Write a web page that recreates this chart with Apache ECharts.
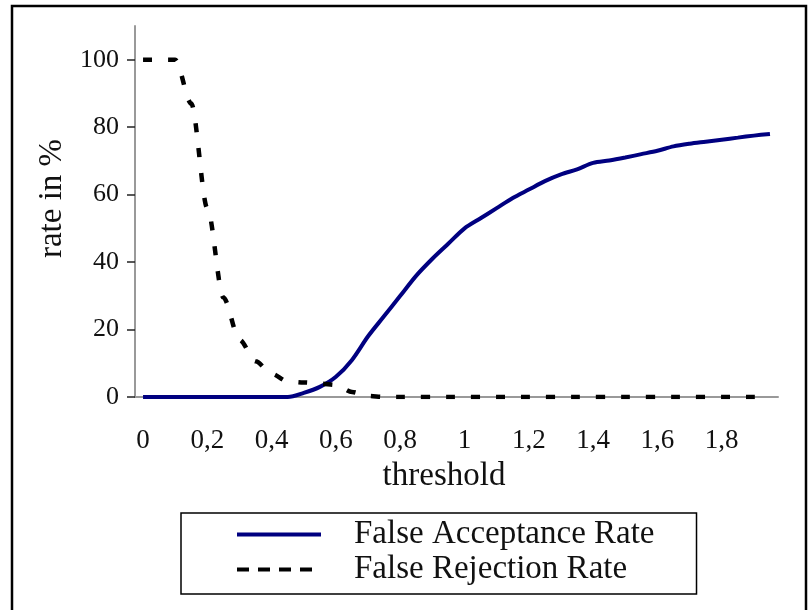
<!DOCTYPE html>
<html>
<head>
<meta charset="utf-8">
<script src="https://cdn.jsdelivr.net/npm/echarts@6/dist/echarts.min.js"></script>
<style>
  html, body { margin: 0; padding: 0; background: #fff; }
  #chart { width: 810px; height: 610px; }
</style>
</head>
<body>
<div id="chart"></div>
<script>
// Threshold categories (step 0,05)
const thresholds = [
  '0', '0,05', '0,1', '0,15', '0,2', '0,25', '0,3', '0,35', '0,4', '0,45',
  '0,5', '0,55', '0,6', '0,65', '0,7', '0,75', '0,8', '0,85', '0,9', '0,95',
  '1', '1,05', '1,1', '1,15', '1,2', '1,25', '1,3', '1,35', '1,4', '1,45',
  '1,5', '1,55', '1,6', '1,65', '1,7', '1,75', '1,8', '1,85', '1,9', '1,95'
];

// False acceptance rate in %
const farValues = [
  0, 0, 0, 0, 0, 0, 0, 0, 0, 0,
  1.2, 3, 6, 11, 18, 24, 30, 36, 41, 45.5,
  50, 53, 56, 59, 61.5, 64, 66, 67.5, 69.4, 70.1,
  71, 72, 73, 74.3, 75.1, 75.7, 76.3, 76.9, 77.5, 78
];

// False rejection rate in %
const frrValues = [
  100, 100, 100, 87, 56, 29.5, 17, 10.6, 6.9, 4.6,
  4.3, 4, 3.6, 1.5, 0.3, 0, 0, 0, 0, 0,
  0, 0, 0, 0, 0, 0, 0, 0, 0, 0,
  0, 0, 0, 0, 0, 0, 0, 0, 0, 0
];

const yTicks = [0, 20, 40, 60, 80, 100];

const serif = '"Liberation Serif", "Times New Roman", serif';
const hiddenDot = { color: 'rgba(0,0,0,0)', borderWidth: 0, opacity: 0 };
const chart = echarts.init(document.getElementById('chart'), null, { renderer: 'canvas' });

chart.setOption({
  animation: false,
  backgroundColor: '#ffffff',
  textStyle: { fontFamily: serif },
  graphic: [{
    type: 'rect',
    silent: true,
    z: -1,
    shape: { x: 12, y: 6, width: 794, height: 640 },
    style: { fill: 'none', stroke: '#000', lineWidth: 2.5 }
  }],
  grid: { left: 135, top: 26, width: 643, height: 371 },
  legend: {
    orient: 'vertical',
    left: 181,
    top: 513,
    padding: [5, 42, 8, 54],
    itemGap: 2,
    itemWidth: 84,
    itemHeight: 20,
    borderColor: '#000',
    borderWidth: 1.5,
    textStyle: { fontFamily: serif, fontSize: 33, color: '#111', padding: [0, 0, 0, 28] },
    data: [
      { name: 'False Acceptance Rate', itemStyle: hiddenDot,
        lineStyle: { color: '#000080', width: 4, type: 'solid' } },
      { name: 'False Rejection Rate', itemStyle: hiddenDot,
        lineStyle: { color: '#000', width: 4, type: [12, 9], cap: 'butt' } }
    ]
  },
  xAxis: {
    type: 'category',
    data: thresholds,
    boundaryGap: true,
    axisLine: { lineStyle: { color: '#999', width: 2 } },
    axisTick: { interval: 0, length: 8, lineStyle: { color: '#222', width: 1.5 } },
    axisLabel: { interval: 3, margin: 30, fontSize: 27, color: '#111', fontFamily: serif },
    splitLine: { show: false },
    name: 'threshold',
    nameLocation: 'middle',
    nameGap: 63,
    nameTextStyle: { fontSize: 33, color: '#111', fontFamily: serif, padding: [0, 25, 0, 0] }
  },
  yAxis: {
    type: 'value',
    min: 0,
    max: 110,
    axisLine: { show: true, lineStyle: { color: '#999', width: 2 } },
    axisTick: { show: true, length: 8, customValues: yTicks, lineStyle: { color: '#222', width: 1.5 } },
    axisLabel: { customValues: yTicks, fontSize: 26, margin: 16, color: '#111', fontFamily: serif },
    splitLine: { show: false },
    name: 'rate in %',
    nameLocation: 'middle',
    nameRotate: 90,
    nameGap: 64,
    nameTextStyle: { fontSize: 33, color: '#111', fontFamily: serif, padding: [0, 0, 0, 26] }
  },
  series: [
    {
      type: 'line',
      name: 'False Acceptance Rate',
      data: farValues,
      symbol: 'none',
      smooth: 0.3,
      itemStyle: { color: '#000080' },
      lineStyle: { color: '#000080', width: 4 },
      z: 3
    },
    {
      type: 'line',
      name: 'False Rejection Rate',
      data: frrValues,
      symbol: 'none',
      smooth: 0.3,
      smoothMonotone: 'x',
      itemStyle: { color: '#000' },
      lineStyle: { color: '#000', width: 4.5, type: [9, 16], cap: 'butt' },
      z: 4
    }
  ]
});
</script>
</body>
</html>
